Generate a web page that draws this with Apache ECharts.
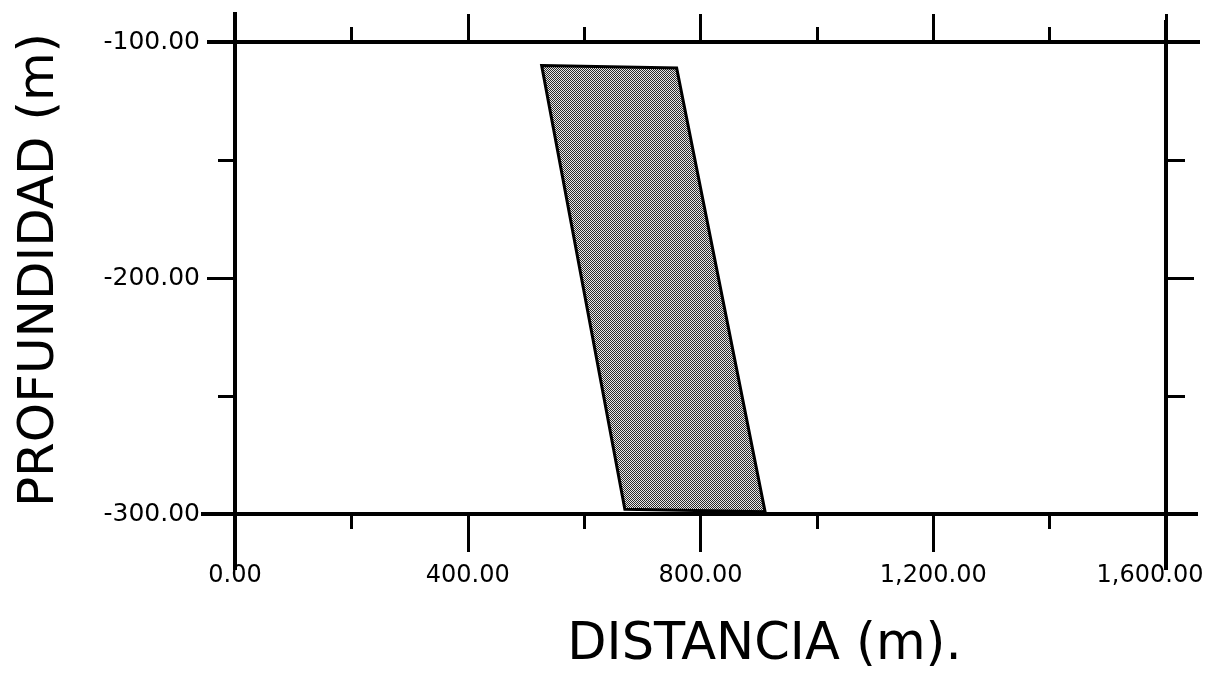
<!DOCTYPE html>
<html>
<head>
<meta charset="utf-8">
<script src="https://cdn.jsdelivr.net/npm/echarts@6/dist/echarts.min.js"></script>
<style>html,body{margin:0;padding:0;background:#fff}#c{width:1213px;height:685px}</style>
</head>
<body>
<div id="c"></div>
<script>
// ---- data ----
var xRange = [0, 1600];
var yRange = [-300, -100];
var xLabelInterval = 400;
var yLabelInterval = 100;
// parallelogram body (distance m, depth m)
var bodyX = [527, 759, 911, 670];
var bodyY = [-110, -111, -299, -298];
var xTitle = 'DISTANCIA (m).';
var yTitle = 'PROFUNDIDAD (m)';

// halftone pattern
var pat = document.createElement('canvas');
pat.width = 2; pat.height = 2;
var pc = pat.getContext('2d');
pc.fillStyle = '#e8e8e8'; pc.fillRect(0,0,2,2);
pc.fillStyle = '#2a2a2a';
pc.fillRect(0,0,1,1); pc.fillRect(1,1,1,1);

var fmt = function (v) {
  return Number(v).toLocaleString('en-US', {minimumFractionDigits: 2, maximumFractionDigits: 2});
};
var fmtX = function (v) {
  var s = fmt(v);
  return v === xRange[1] ? '{last|' + s + '}' : s;
};
var font = 'DejaVu Sans';
var lineW = 4;

var chart = echarts.init(document.getElementById('c'));
chart.setOption({
  backgroundColor: '#fff',
  animation: false,
  grid: {left: 235, right: 47, top: 42, bottom: 171, containLabel: false, outerBoundsMode: 'none'},
  xAxis: [{
    type: 'value', position: 'bottom', min: xRange[0], max: xRange[1], interval: xLabelInterval,
    axisLine: {show: true, onZero: false, lineStyle: {color: '#000', width: lineW}},
    axisTick: {show: true, length: 38, lineStyle: {color: '#000', width: 3}},
    minorTick: {show: true, splitNumber: 2, length: 15, lineStyle: {color: '#000', width: 3}},
    splitLine: {show: false},
    axisLabel: {formatter: fmtX, color: '#000', fontFamily: font, fontSize: 24, margin: 50,
      rich: {last: {color: '#000', fontFamily: font, fontSize: 24, padding: [0, 32, 0, 0]}}},
    name: xTitle, nameLocation: 'middle', nameGap: 106,
    nameTextStyle: {color: '#000', fontFamily: font, fontSize: 51, padding: [0, 0, 0, 128]}
  }, {
    type: 'value', position: 'top', min: xRange[0], max: xRange[1], interval: xLabelInterval,
    axisLine: {show: true, onZero: false, lineStyle: {color: '#000', width: lineW}},
    axisTick: {show: true, length: 28, lineStyle: {color: '#000', width: 3}},
    minorTick: {show: true, splitNumber: 2, length: 15, lineStyle: {color: '#000', width: 3}},
    splitLine: {show: false},
    axisLabel: {show: false}
  }],
  yAxis: [{
    type: 'value', position: 'left', min: yRange[0], max: yRange[1], interval: yLabelInterval,
    axisLine: {show: true, onZero: false, lineStyle: {color: '#000', width: lineW}},
    axisTick: {show: true, length: 28, lineStyle: {color: '#000', width: 3}},
    minorTick: {show: true, splitNumber: 2, length: 17, lineStyle: {color: '#000', width: 3}},
    splitLine: {show: false},
    axisLabel: {formatter: fmt, color: '#000', fontFamily: font, fontSize: 25, margin: 35},
    name: yTitle, nameLocation: 'middle', nameGap: 170, nameRotate: 90,
    nameTextStyle: {color: '#000', fontFamily: font, fontSize: 50, padding: [0, 0, 0, 16]}
  }, {
    type: 'value', position: 'right', min: yRange[0], max: yRange[1], interval: yLabelInterval,
    axisLine: {show: true, onZero: false, lineStyle: {color: '#000', width: lineW}},
    axisTick: {show: true, length: 28, lineStyle: {color: '#000', width: 3}},
    minorTick: {show: true, splitNumber: 2, length: 19, lineStyle: {color: '#000', width: 3}},
    splitLine: {show: false},
    axisLabel: {show: false}
  }],
  series: [{
    type: 'custom',
    name: 'frame',
    clip: false,
    silent: true,
    data: [[0]],
    renderItem: function (params, api) {
      var tl = api.coord([xRange[0], yRange[1]]);
      var tr = api.coord([xRange[1], yRange[1]]);
      var bl = api.coord([xRange[0], yRange[0]]);
      var br = api.coord([xRange[1], yRange[0]]);
      var st = {stroke: '#000', lineWidth: lineW};
      return {type: 'group', children: [
        {type: 'line', shape: {x1: tl[0] - 28, y1: tl[1], x2: tr[0] + 34, y2: tr[1]}, style: st},
        {type: 'line', shape: {x1: bl[0] - 34, y1: bl[1], x2: br[0] + 32, y2: br[1]}, style: st},
        {type: 'line', shape: {x1: tl[0], y1: tl[1] - 30, x2: bl[0], y2: bl[1] + 56}, style: st},
        {type: 'line', shape: {x1: tr[0], y1: tr[1] - 22, x2: br[0], y2: br[1] + 56}, style: st}
      ]};
    }
  }, {
    type: 'custom',
    name: 'body',
    clip: false,
    data: bodyX.map(function (x, i) { return [x, bodyY[i]]; }),
    renderItem: function (params, api) {
      if (params.dataIndex !== 0) return null;
      var pts = bodyX.map(function (x, i) { return api.coord([x, bodyY[i]]); });
      return {
        type: 'polygon',
        shape: {points: pts},
        style: {fill: {image: pat, repeat: 'repeat'}, stroke: '#000', lineWidth: 3}
      };
    }
  }]
});
</script>
</body>
</html>
